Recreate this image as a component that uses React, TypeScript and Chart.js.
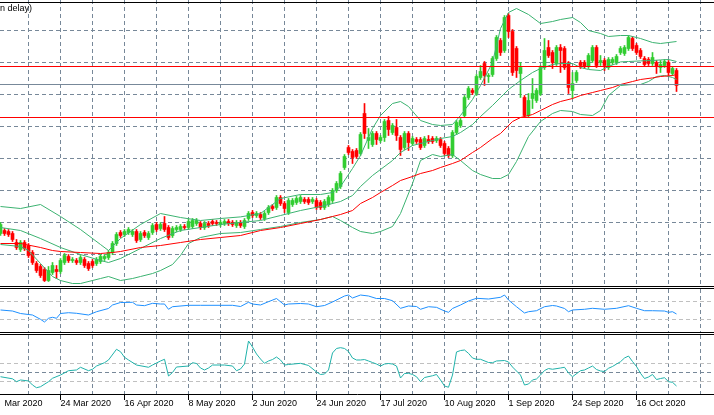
import React, { useEffect, useRef } from "react";
import { Chart, registerables } from "chart.js";

Chart.register(...registerables);

// ---------- data ----------
// x-axis labels and the bar index each one starts at (the first one is cut off by the left edge)
const tickBars = [1, 15, 31, 47, 63, 79, 95, 111, 127, 143, 159];
const tickLabels = [
  "Mar 2020", "24 Mar 2020", "16 Apr 2020", "8 May 2020", "2 Jun 2020", "24 Jun 2020",
  "17 Jul 2020", "10 Aug 2020", "1 Sep 2020", "24 Sep 2020", "16 Oct 2020",
];

// daily candles, bar 0 .. 169
const open = [
  42.5, 44, 43.5, 42.5, 38, 34.5, 38, 36.5, 33, 27.5, 26, 24.5, 19, 23, 24.5, 23.5, 28, 31, 29, 29,
  28, 29.5, 27.5, 28.5, 27.5, 28.5, 30, 30.5, 33, 37.5, 43, 42, 43, 42, 43.5, 39.5, 43, 40.5, 43, 47,
  45, 47.5, 45.5, 41.5, 44.5, 44.5, 46, 45.5, 46, 47.5, 47.5, 45.5, 47.5, 48.5, 48, 47, 47.5, 48.5, 48, 46.5,
  48, 46, 50, 53, 51.5, 52, 50, 53, 56, 55.5, 60.5, 57.5, 53, 57, 58, 58.5, 59.5, 59.5, 58.5, 59,
  58, 55.5, 57, 59, 64, 66, 75.5, 85.5, 83.5, 84, 82.5, 102.5, 89, 87, 92.5, 89, 90.5, 99, 93, 95.5,
  90.5, 85.5, 92.5, 87.5, 89.5, 89.5, 86.5, 89.5, 90, 89, 89.5, 87.5, 85, 81.5, 93, 96.5, 101.5, 110.5, 114, 112.5,
  120.5, 127.5, 121, 122, 130, 139, 134, 151.5, 143.5, 135, 122.5, 110.5, 101.5, 110, 109, 112.5, 125.5, 135.5, 133, 127.5,
  135.5, 135, 127.5, 114, 119, 128, 128, 126, 129, 135.5, 128, 129, 125.5, 128, 128, 133, 132.5, 135, 140, 136.5,
  134, 130, 129.5, 127.5, 128, 125.5, 126.5, 128, 122.5, 124,
];
const high = [
  48, 45, 44.5, 43.5, 39.5, 39, 39, 37.5, 34, 28.5, 27, 25.5, 26, 28, 26.5, 30, 32.5, 32, 30.5, 30,
  31.5, 30.5, 28.5, 29.5, 30.5, 32, 32, 34, 38.5, 43, 44, 44.5, 45.5, 44.5, 44.5, 43.5, 44, 43.5, 47.5, 48,
  48, 51, 46.5, 46, 46.5, 47, 47, 49.5, 50, 50, 48.5, 48.5, 48.5, 49.5, 49, 49, 49.5, 49.5, 49, 49,
  49, 50, 53.5, 54, 53.5, 53, 53.5, 56.5, 57, 61.5, 61.5, 58.5, 60, 60, 61, 61.5, 60.5, 60.5, 60.5, 60,
  59, 59.5, 61.5, 65, 68.5, 73.5, 82, 86.5, 84.5, 85, 93, 107.5, 95, 93.5, 93.5, 91.5, 99.5, 101, 97.5, 99.5,
  91.5, 93.5, 93.5, 91, 90.5, 90.5, 91, 91.5, 91, 91, 90.5, 88.5, 86, 94, 99, 100, 111.5, 116, 115, 122,
  126.5, 128.5, 122.5, 131, 141.5, 140, 151.5, 152.5, 144.5, 136, 128, 111.5, 112.5, 120, 115, 126.5, 140, 139, 134, 136.5,
  137, 136, 128.5, 123, 124, 129, 129, 132.5, 136.5, 136.5, 131.5, 130, 130.5, 130.5, 132, 136, 136.5, 141.5, 141, 137.5,
  135, 131, 130.5, 133, 129, 129, 129.5, 129, 126, 125,
];
const low = [
  41.5, 41.5, 41, 38.5, 34.5, 33.5, 34, 30.5, 27, 23, 20.5, 18.5, 18.5, 22, 20, 22.5, 27, 28, 28, 27,
  27, 25.5, 24, 25.5, 26.5, 27.5, 29, 29.5, 32, 36.5, 40.5, 41, 42, 41, 38, 38.5, 40.5, 39.5, 42, 43.5,
  44, 43.5, 39.5, 40.5, 43.5, 43.5, 44.5, 44.5, 45, 46.5, 44.5, 44.5, 45.5, 46.5, 46.5, 46, 46.5, 46.5, 46, 45.5,
  45.5, 45, 49, 50.5, 50.5, 49.5, 49, 52, 54, 54.5, 56.5, 53, 52, 56, 57, 57.5, 57.5, 57, 57.5, 54.5,
  54.5, 54.5, 56, 58, 63, 65, 74.5, 82, 77.5, 80, 81.5, 90, 85, 86, 87, 88, 88.5, 91.5, 92, 89,
  81.5, 84.5, 84, 86.5, 87.5, 84.5, 85.5, 87.5, 87.5, 88, 85.5, 81.5, 80.5, 80.5, 92, 95.5, 100.5, 109.5, 112, 111.5,
  119.5, 116.5, 118, 121, 129, 131.5, 133, 140.5, 121.5, 120.5, 110.5, 100.5, 100.5, 105, 108, 111.5, 124.5, 130.5, 125, 126.5,
  123, 124.5, 112.5, 110, 118, 125, 125, 125, 128, 125.5, 126.5, 124, 124.5, 127, 127, 132, 131.5, 134, 134, 132,
  130, 126, 126.5, 126.5, 122.5, 123, 125.5, 121.5, 121.5, 113.5,
];
const close = [
  47, 42.5, 42, 39.5, 35.5, 38, 35, 31.5, 28, 24, 21.5, 19, 24, 26.5, 23.5, 29, 31.5, 29, 29.5, 28,
  30.5, 26.5, 25, 26.5, 29.5, 31, 31, 33, 37.5, 42, 41.5, 43.5, 44.5, 43.5, 39, 42.5, 41.5, 42.5, 46.5, 44.5,
  47, 44.5, 40.5, 45, 45.5, 46, 45.5, 48.5, 49, 49, 45.5, 47.5, 46.5, 47.5, 47.5, 48, 48.5, 47.5, 47, 48,
  46.5, 49, 52.5, 51.5, 52.5, 50.5, 52.5, 55.5, 55, 60.5, 57.5, 55, 59, 59, 60, 60.5, 58.5, 58, 59.5, 55.5,
  55.5, 58.5, 60.5, 64, 67.5, 72.5, 81, 83, 80.5, 81, 92, 92.5, 90.5, 92.5, 89.5, 90.5, 98.5, 94.5, 96.5, 91.5,
  84.5, 92.5, 88, 90, 88.5, 85.5, 90, 88.5, 88.5, 90, 86.5, 82.5, 81.5, 93, 98, 99, 110.5, 115, 113, 121,
  123.5, 121.5, 121.5, 130, 140.5, 133, 150.5, 143.5, 123, 124, 125.5, 101.5, 109, 112.5, 114, 125.5, 134, 131.5, 128, 135.5,
  134, 125.5, 115.5, 117.5, 123, 126.5, 126, 131.5, 135.5, 126.5, 129, 126.5, 129.5, 129.5, 131, 135, 135.5, 140.5, 135, 133,
  131, 127, 127.5, 130.5, 126, 127, 128.5, 123, 125, 116.5,
];

// Bollinger bands (read at the listed bars)
const upperBars = [0, 5, 10, 15, 20, 25, 27, 30, 35, 40, 45, 50, 55, 60, 65, 70, 75, 80, 83, 85, 88, 90, 93, 95, 98, 100, 102, 105, 108, 110, 113, 115, 118, 120, 123, 125, 127, 129, 132, 135, 138, 140, 143, 145, 147, 150, 152, 155, 157, 160, 163, 165, 167, 169];
const upperVals = [56, 55, 57, 51, 44.5, 37, 34, 40, 47, 52.5, 50.5, 49, 50, 50.8, 52.5, 60, 62, 62, 63, 66, 75, 81.5, 95, 101.5, 107.5, 108.5, 106, 99, 97, 96.5, 97, 101.5, 109.5, 116.5, 128, 145, 153, 155, 152, 147.5, 148.5, 149.5, 150.5, 148, 144, 142.5, 141, 141.5, 141.5, 140, 138, 137.5, 138, 138.5];
const middleBars = [0, 5, 10, 15, 20, 25, 27, 30, 35, 40, 45, 50, 55, 60, 65, 70, 75, 80, 85, 88, 90, 93, 95, 98, 100, 103, 105, 108, 110, 113, 115, 118, 120, 123, 125, 127, 130, 133, 135, 138, 140, 143, 145, 147, 150, 152, 155, 157, 160, 163, 165, 167, 169];
const middleVals = [45.5, 44, 40, 35.5, 32, 29, 28, 30, 35, 40, 44, 45.5, 47, 48, 49, 51.5, 54, 56, 58.5, 61.5, 66, 71.5, 74.5, 79, 83, 86.5, 87.5, 89, 90, 91, 93, 97, 101, 106.5, 110.5, 114.5, 119, 123, 125, 127, 127.5, 127.5, 125.5, 124.5, 124, 126, 128.3, 128.5, 128.8, 129, 129.3, 129.5, 128.5];
const lowerBars = [0, 5, 7, 10, 13, 15, 18, 20, 23, 25, 27, 30, 33, 35, 38, 40, 43, 45, 47, 50, 55, 60, 65, 70, 75, 80, 83, 85, 88, 90, 93, 95, 98, 100, 103, 105, 108, 110, 113, 115, 118, 120, 123, 125, 127, 129, 132, 135, 138, 140, 143, 145, 148, 150, 152, 155, 158, 160, 162, 164, 166, 168, 169];
const lowerVals = [37, 36, 34, 27.5, 21, 19, 17.5, 17.5, 19, 20, 21, 19, 20, 21, 22.5, 24, 27, 31.5, 37.5, 40.5, 42.5, 43, 44.5, 46, 48, 49.5, 51, 49, 45.5, 43.5, 42.5, 43.5, 46, 52.5, 67.5, 79, 82, 81, 82, 79, 74, 72, 70, 70, 72, 78.5, 91, 98.5, 102.5, 104, 103.5, 102, 101.5, 104, 111.5, 116.5, 117, 117, 118.5, 121, 121.5, 120.5, 119.5];

// red moving average
const maBars = [0, 5, 10, 13, 15, 20, 25, 28, 30, 35, 40, 45, 50, 55, 60, 65, 70, 75, 80, 83, 85, 88, 90, 93, 95, 98, 100, 103, 105, 108, 110, 113, 115, 118, 120, 123, 125, 128, 130, 133, 135, 138, 140, 143, 145, 148, 150, 153, 155, 158, 160, 163, 165, 168, 169];
const maVals = [37.5, 37.5, 35.5, 34, 33.5, 33, 32.5, 33, 33.5, 35.5, 36.5, 38, 39.5, 40.5, 41.5, 44, 45.5, 47.5, 49.5, 51, 52, 54, 57.5, 60.5, 63, 66.5, 69, 71, 72.5, 74, 75.5, 77.5, 79, 83, 85.5, 90, 92.5, 98.5, 100.5, 102, 104, 107, 108.5, 110, 111.5, 113, 114, 115.5, 117, 118.5, 119.5, 120.3, 121, 121.5, 122];

// horizontal price lines
const redLevels = [126, 100.5];
const grayLevels = [117];

// RSI (upper sub-window)
const rsiBars = [0, 3, 5, 8, 10, 11, 12, 13, 14, 15, 17, 19, 22, 24, 27, 28, 30, 33, 34, 36, 38, 40, 41, 42, 43, 47, 50, 55, 58, 60, 62, 63, 65, 67, 69, 71, 72, 75, 77, 79, 81, 83, 86, 87, 88, 90, 92, 94, 96, 98, 100, 102, 104, 105, 107, 109, 111, 112, 113, 115, 117, 119, 122, 125, 126, 127, 129, 131, 132, 134, 136, 138, 139, 141, 142, 143, 146, 148, 151, 154, 157, 159, 161, 163, 166, 167, 168, 169];
const rsiVals = [51.2, 48.8, 43.0, 39.5, 29.5, 23.3, 31.9, 34.2, 31.9, 43.0, 44.9, 43.5, 39.5, 47.2, 54.7, 62.8, 68.6, 69.1, 62.8, 61.2, 66.7, 65.1, 65.1, 52.8, 58.8, 62.1, 62.1, 62.1, 62.1, 59.3, 69.1, 65.1, 62.8, 70.5, 77.9, 62.8, 65.1, 66.3, 65.1, 58.8, 61.6, 69.8, 83.7, 86.0, 79.1, 86.0, 83.7, 77.9, 77.9, 72.8, 55.1, 60.5, 59.3, 52.8, 58.8, 57.4, 48.8, 45.8, 54.7, 62.8, 72.1, 78.4, 76.7, 80.7, 86.0, 74.4, 58.8, 44.2, 47.2, 49.5, 58.8, 61.6, 60.5, 54.7, 47.2, 51.2, 52.8, 55.1, 52.8, 55.1, 61.2, 55.1, 49.5, 49.5, 48.8, 45.8, 47.2, 41.9];
const rsiLevels = [30, 70];

// CCI (lower sub-window)
const cciBars = [0, 3, 4, 5, 7, 8, 9, 10, 12, 13, 15, 17, 19, 20, 22, 23, 24, 26, 27, 29, 30, 31, 32, 34, 37, 38, 40, 41, 42, 43, 44, 47, 48, 49, 50, 51, 52, 53, 56, 58, 59, 60, 61, 62, 63, 64, 65, 66, 67, 68, 69, 70, 71, 72, 75, 77, 79, 80, 81, 82, 83, 84, 85, 86, 87, 88, 89, 90, 91, 92, 93, 94, 95, 96, 97, 98, 99, 100, 101, 102, 103, 104, 105, 106, 108, 109, 110, 111, 112, 113, 114, 115, 116, 117, 118, 119, 120, 122, 123, 124, 126, 127, 128, 130, 131, 132, 133, 134, 135, 136, 137, 138, 140, 141, 142, 143, 145, 146, 147, 148, 149, 150, 151, 152, 153, 154, 155, 156, 157, 158, 159, 160, 161, 162, 163, 164, 165, 166, 167, 168, 169];
const cciVals = [-47, -70, -102, -83, -94, -139, -169, -158, -102, -64, -28, 20, 28, 58, 20, 36, 72, 109, 139, 258, 231, 169, 139, 83, 58, 83, 128, 147, -39, 0, 61, 72, 109, 100, 50, 28, 50, 83, 83, 72, 20, 39, 94, 350, 283, 206, 150, 102, 128, 144, 172, 139, 83, 89, 102, 78, 6, -22, -17, 28, 217, 267, 276, 267, 233, 161, 139, 139, 144, 128, 111, 94, 72, 94, 100, 94, 72, -61, -11, -9, -22, -47, -102, -56, -36, -22, -83, -150, -164, -28, 228, 244, 250, 213, 161, 147, 147, 111, 109, 128, 133, 117, 61, -28, -139, -128, -83, -72, -28, 22, 44, 36, 50, 58, -6, -47, 20, 28, 50, 72, 33, 17, 11, 47, 67, 94, 120, 161, 183, 122, 67, -9, -67, -50, -22, -78, -67, -58, -102, -109, -150];
const cciLevels = [-100, 0, 100];

// ---------- styling ----------
const W = 714;
const BAR_PX = 4;
const X_MIN = -0.125;
const X_MAX = X_MIN + W / BAR_PX;
const GRID = "#778899";
const LEVEL = "#C0C0C0";
const DASH = [4, 3];
const BULL = "#32CD32";
const BEAR = "#FF0000";
const BAND = "#3CB371";
const FONT = "'Liberation Sans', Arial, sans-serif";
const CLEAR = "rgba(0,0,0,0)";

const isGridBar = (v: number) => (((v - 7) % 8) + 8) % 8 === 0;

function axisTicks() {
  const set = new Set<number>(tickBars);
  for (let b = -1; b <= 176; b += 8) set.add(b);
  return Array.from(set)
    .sort((a, b) => a - b)
    .map((value) => ({ value }));
}

function xScale(withLabels: boolean): any {
  return {
    type: "linear",
    min: X_MIN,
    max: X_MAX,
    offset: false,
    position: "bottom",
    afterBuildTicks: (s: any) => {
      s.ticks = axisTicks();
    },
    grid: {
      color: (c: any) => (c.tick && isGridBar(c.tick.value) ? GRID : CLEAR),
      lineWidth: 1,
      offset: false,
      drawTicks: withLabels,
      tickLength: 6,
      tickWidth: 1,
      tickBorderDash: [],
      tickColor: (c: any) =>
        c.tick && tickBars.includes(c.tick.value) && isGridBar(c.tick.value) ? "#000000" : CLEAR,
    },
    border: { display: withLabels, color: "#000000", width: 1, dash: DASH },
    ticks: {
      display: withLabels,
      autoSkip: false,
      maxRotation: 0,
      minRotation: 0,
      align: "start",
      padding: -2,
      color: "#000000",
      font: { family: FONT, size: 9 },
      callback: (v: number) => {
        const k = tickBars.indexOf(v);
        return k >= 0 ? tickLabels[k] : "";
      },
    },
    afterFit: (s: any) => {
      s.height = withLabels ? 21 : 0;
      s.paddingLeft = 0;
      s.paddingRight = 0;
    },
  };
}

function yScale(min: number, max: number, levels: number[], color: any): any {
  return {
    type: "linear",
    min,
    max,
    position: "left",
    afterBuildTicks: (s: any) => {
      s.ticks = levels.map((v) => ({ value: v }));
    },
    grid: { color, lineWidth: 1, drawTicks: false },
    border: { display: false, dash: DASH },
    ticks: { display: false },
    afterFit: (s: any) => {
      s.width = 0;
      s.paddingTop = 0;
      s.paddingBottom = 0;
    },
  };
}

const baseOptions = (scales: any): any => ({
  animation: false,
  responsive: false,
  maintainAspectRatio: false,
  devicePixelRatio: 1,
  events: [],
  layout: { padding: 0 },
  plugins: { legend: { display: false }, tooltip: { enabled: false } },
  scales,
});

const pts = (bars: number[], vals: number[]) => bars.map((b, i) => ({ x: b, y: vals[i] }));

const lineDs = (data: any[], color: string, order: number): any => ({
  type: "line",
  data,
  borderColor: color,
  borderWidth: 1,
  pointRadius: 0,
  tension: 0,
  fill: false,
  order,
});

const mainLevels = [32, 48, 64, 80, 96, 112, 128, 144];

export default function App() {
  const mainRef = useRef<HTMLCanvasElement>(null);
  const rsiRef = useRef<HTMLCanvasElement>(null);
  const cciRef = useRef<HTMLCanvasElement>(null);

  useEffect(() => {
    document.body.style.margin = "0";
    const colors = open.map((o, i) => (close[i] >= o ? BULL : BEAR));
    const wicks = open.map((_, i) => ({ x: i, y: [low[i], high[i]] }));
    const bodies = open.map((o, i) => ({ x: i, y: [o, close[i]] }));

    const main = new Chart(mainRef.current!, {
      type: "bar",
      data: {
        datasets: [
          { type: "bar", data: wicks, backgroundColor: colors, barThickness: 1, grouped: false, borderWidth: 0, order: 6 } as any,
          { type: "bar", data: bodies, backgroundColor: colors, barThickness: 3, grouped: false, borderWidth: 0, minBarLength: 1, order: 5 } as any,
          lineDs(pts(lowerBars, lowerVals), BAND, 3),
          lineDs(pts(middleBars, middleVals), BAND, 3),
          lineDs(pts(upperBars, upperVals), BAND, 3),
          lineDs(pts(maBars, maVals), "#FF0000", 2),
          ...grayLevels.map((v) => lineDs([{ x: X_MIN, y: v }, { x: X_MAX, y: v }], GRID, 1)),
          ...redLevels.map((v) => lineDs([{ x: X_MIN, y: v }, { x: X_MAX, y: v }], "#FF0000", 0)),
        ],
      },
      options: baseOptions({
        x: xScale(false),
        y: yScale(16.25, 159.25, mainLevels, GRID),
      }),
    });

    const rsi = new Chart(rsiRef.current!, {
      type: "line",
      data: { datasets: [lineDs(pts(rsiBars, rsiVals), "#1E90FF", 0)] },
      options: baseOptions({
        x: xScale(false),
        y: yScale(0, 100, rsiLevels, LEVEL),
      }),
    });

    const cci = new Chart(cciRef.current!, {
      type: "line",
      data: { datasets: [lineDs(pts(cciBars, cciVals), "#20B2AA", 0)] },
      options: baseOptions({
        x: xScale(true),
        y: yScale((-21.5 * 100) / 9, (37.5 * 100) / 9, cciLevels, (c: any) => (c.tick && c.tick.value === 0 ? GRID : LEVEL)),
      }),
    });

    return () => {
      main.destroy();
      rsi.destroy();
      cci.destroy();
    };
  }, []);

  const hLine = (top: number): React.CSSProperties => ({
    position: "absolute",
    left: 0,
    top,
    width: W,
    height: 1,
    background: "#000000",
  });
  const cv = (top: number, h: number): React.CSSProperties => ({
    position: "absolute",
    left: 0,
    top,
    width: W,
    height: h,
    display: "block",
  });

  return (
    <div style={{ position: "fixed", left: 0, top: 0, width: W, height: 415, background: "#ffffff", overflow: "hidden" }}>
      <canvas ref={mainRef} width={W} height={286} style={cv(0, 286)} />
      <div style={hLine(2)} />
      <div
        style={{
          position: "absolute",
          left: 0,
          top: 4,
          font: `9px ${FONT}`,
          lineHeight: "9px",
          color: "#000000",
          whiteSpace: "nowrap",
        }}
      >
        n delay)
      </div>
      <div style={hLine(286)} />
      <div style={hLine(288)} />
      <canvas ref={rsiRef} width={W} height={43} style={cv(289, 43)} />
      <div style={hLine(332)} />
      <div style={hLine(334)} />
      <canvas ref={cciRef} width={W} height={80} style={cv(335, 80)} />
    </div>
  );
}
